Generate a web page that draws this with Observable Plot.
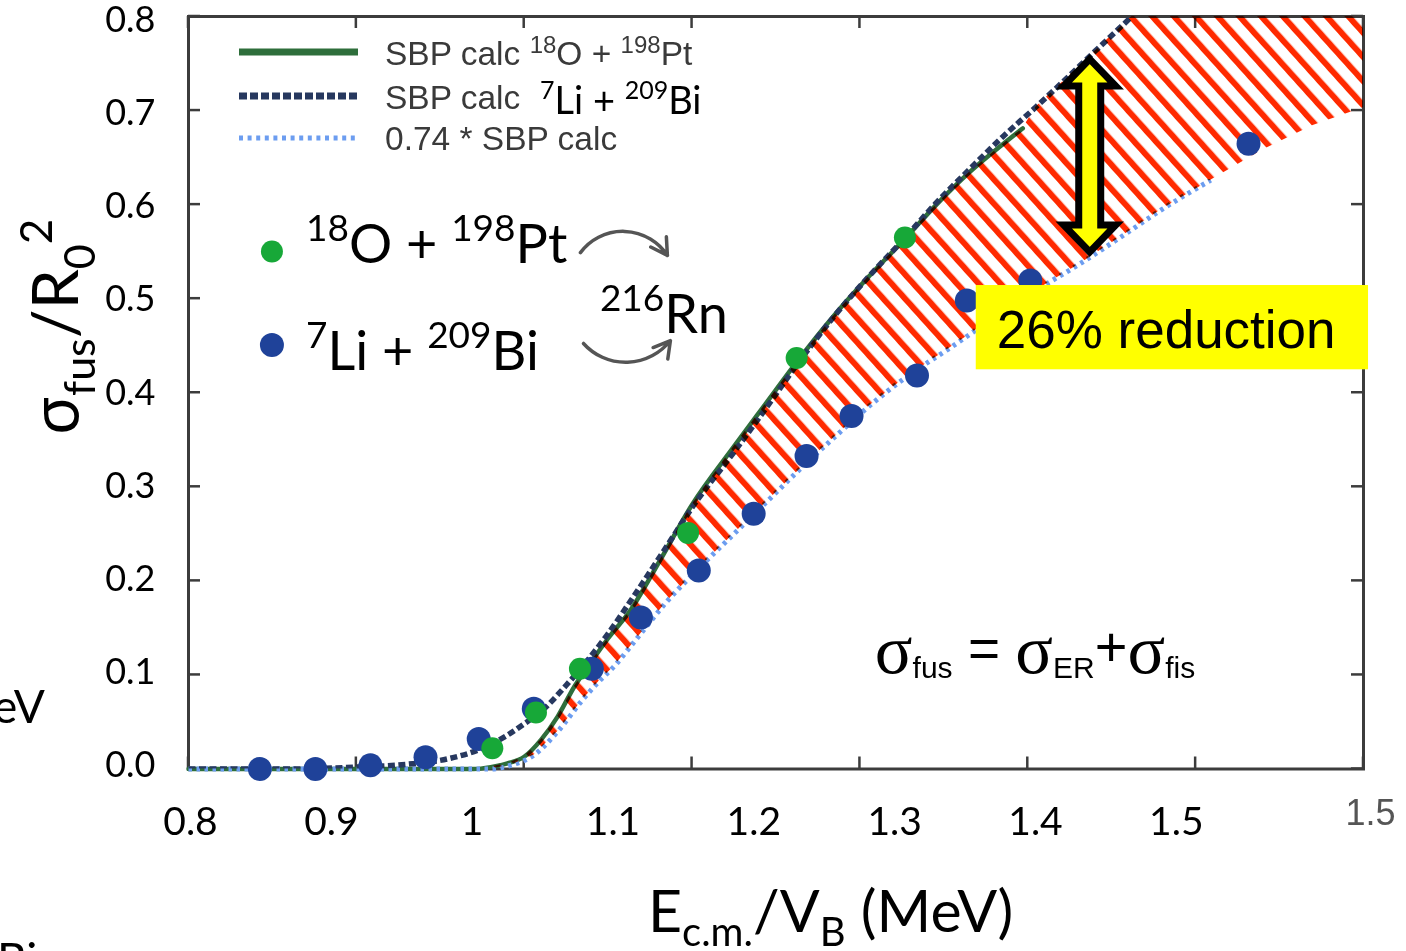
<!DOCTYPE html>
<html><head><meta charset="utf-8">
<script src="https://cdn.jsdelivr.net/npm/d3@7"></script>
<script src="https://cdn.jsdelivr.net/npm/@observablehq/plot@0.6"></script>
<style>
html, body { margin:0; padding:0; background:#fff; overflow:hidden; }
svg text { white-space: pre; }
</style>
</head><body><div id="chart"></div>
<script>
// ---------- data ----------
const xTickValues = [0.8, 0.9, 1.0, 1.1, 1.2, 1.3, 1.4, 1.5];
const xTickLabels = ["0.8", "0.9", "1", "1.1", "1.2", "1.3", "1.4", "1.5"];
const yTickValues = [0, 0.1, 0.2, 0.3, 0.4, 0.5, 0.6, 0.7, 0.8];
const yTickLabels = ["0.0", "0.1", "0.2", "0.3", "0.4", "0.5", "0.6", "0.7", "0.8"];

// SBP calc 18O + 198Pt (solid green)
const sbpO = [[0.80,0.000],[0.97,0.000],[0.98,0.002],[0.99,0.006],[1.00,0.013],[1.01,0.031],[1.02,0.056],[1.03,0.088],[1.04,0.114],[1.05,0.139],[1.063,0.168],[1.08,0.219],[1.10,0.281],[1.125,0.343],[1.145,0.391],[1.1625,0.433],[1.185,0.483],[1.205,0.523],[1.227,0.564],[1.245,0.599],[1.265,0.634],[1.285,0.664],[1.297,0.681]];
// SBP calc 7Li + 209Bi (dashed navy)
const sbpLi = [[0.80,0.000],[0.86,0.000],[0.90,0.002],[0.93,0.005],[0.955,0.011],[0.975,0.022],[0.99,0.036],[1.00,0.048],[1.01,0.061],[1.025,0.089],[1.0375,0.115],[1.05,0.144],[1.065,0.183],[1.085,0.237],[1.10,0.278],[1.125,0.337],[1.145,0.386],[1.1625,0.430],[1.185,0.482],[1.205,0.523],[1.227,0.565],[1.245,0.601],[1.265,0.637],[1.285,0.672],[1.305,0.704],[1.32,0.729],[1.34,0.763],[1.362,0.800]];
// 0.74 * SBP calc (dotted light blue)
const sbpScaled = [[0.80,0.000],[0.97,0.000],[0.98,0.000],[0.992,0.004],[1.006,0.015],[1.02,0.040],[1.035,0.074],[1.045,0.094],[1.053,0.108],[1.065,0.134],[1.085,0.178],[1.105,0.215],[1.125,0.250],[1.145,0.285],[1.165,0.320],[1.185,0.353],[1.205,0.385],[1.227,0.416],[1.254,0.448],[1.28,0.480],[1.305,0.509],[1.331,0.537],[1.355,0.565],[1.38,0.595],[1.409,0.626]];
// lower edge of the hatched band beyond the end of the dotted curve
const reductionLowerEdge = [[1.44,0.658],[1.47,0.684],[1.50,0.703]];

// measured points
const dataO = [[0.981,0.022],[1.0070,0.060],[1.0332,0.1065],[1.0976,0.251],[1.1623,0.437],[1.2268,0.565]];
const dataLi = [[0.8425,0.000],[0.8756,0.000],[0.9084,0.004],[0.9412,0.0126],[0.9729,0.032],[1.0057,0.064],[1.0403,0.1065],[1.0695,0.161],[1.1040,0.211],[1.1367,0.2713],[1.1682,0.3328],[1.1950,0.3752],[1.2340,0.4183],[1.2637,0.498],[1.3015,0.5194],[1.4315,0.6647]];

// ---------- styling ----------
const LATO = "Lato, 'Noto Sans', sans-serif";
const ARIAL = "'Liberation Sans', Arial, sans-serif";
const SERIF = "'Liberation Serif', 'Times New Roman', serif";
const colO = "#17a838", colLi = "#1f4299";
const colGreenLine = "#2e6e3b", colDash = "#27385f", colDot = "#6c9df0";
const frameColor = "#3c3c3c";

// rich text with sub/superscripts
function rich(parent, px, py, parts, base) {
  const t = parent.append("text").attr("x", px).attr("y", py)
    .attr("font-family", base.family).attr("font-size", base.size)
    .attr("fill", base.fill || "#000").attr("text-anchor", base.anchor || "start")
    .style("white-space", "pre");
  if (base.transform) t.attr("transform", base.transform);
  let cur = 0;
  for (const p of parts) {
    const s = t.append("tspan").text(p.t);
    if (p.size) s.attr("font-size", p.size);
    if (p.family) s.attr("font-family", p.family);
    if (p.fill) s.attr("fill", p.fill);
    const target = p.shift || 0;
    if (target !== cur) { s.attr("dy", target - cur); cur = target; }
    if (p.dx) s.attr("dx", p.dx);
  }
  return t;
}

// inward tick marks on all four sides
function tickMarks(index, {x, y}, values, dims) {
  const {width, height, marginTop, marginRight, marginBottom, marginLeft} = dims;
  const g = d3.create("svg:g").attr("stroke", frameColor).attr("stroke-width", 2.5);
  const b = height - marginBottom, t = marginTop, l = marginLeft, r = width - marginRight, L = 12;
  for (const v of xTickValues) {
    const p = x(v);
    g.append("line").attr("x1", p).attr("x2", p).attr("y1", b).attr("y2", b - L);
    g.append("line").attr("x1", p).attr("x2", p).attr("y1", t).attr("y2", t + L);
  }
  for (const v of yTickValues) {
    const p = y(v);
    g.append("line").attr("y1", p).attr("y2", p).attr("x1", l).attr("x2", l + L);
    g.append("line").attr("y1", p).attr("y2", p).attr("x1", r).attr("x2", r - L);
  }
  return g.node();
}

// hatched "reduction" band between SBP calc and 0.74*SBP calc
function hatchBand(index, {x, y}) {
  const g = d3.create("svg:g");
  const pat = g.append("defs").append("pattern").attr("id", "hatch26")
    .attr("patternUnits", "userSpaceOnUse").attr("width", 16.2).attr("height", 16.2)
    .attr("patternTransform", "rotate(-42)");
  pat.append("rect").attr("width", 6).attr("height", 16.2).attr("fill", "#ff2a00");
  const endO = sbpO[sbpO.length - 1][0];
  const top = sbpO.filter(d => d[0] >= 0.98)
    .concat(sbpLi.filter(d => d[0] > endO)).concat([[1.5, 0.8]]);
  const bottom = sbpScaled.filter(d => d[0] >= 0.98).concat(reductionLowerEdge);
  const pts = top.concat(bottom.slice().reverse()).map(([a, v]) => [x(a), y(v)]);
  g.append("path").attr("d", "M" + pts.map(p => p.join(",")).join("L") + "Z")
    .attr("fill", "url(#hatch26)").style("mix-blend-mode", "multiply");
  return g.node();
}

// legend of the original figure (top-left inside the frame)
function legendBox(index, scales, values, dims) {
  const g = d3.create("svg:g");
  const x0 = dims.marginLeft + 51, x1 = dims.marginLeft + 170, tx = dims.marginLeft + 197;
  const rows = [
    {yy: 52, stroke: colGreenLine, w: 7, dash: null},
    {yy: 96, stroke: colDash, w: 7, dash: "8,3"},
    {yy: 138, stroke: colDot, w: 5, dash: "4,4.6"}
  ];
  rows.forEach(r => {
    const ln = g.append("line").attr("x1", x0).attr("x2", x1).attr("y1", r.yy).attr("y2", r.yy)
      .attr("stroke", r.stroke).attr("stroke-width", r.w);
    if (r.dash) ln.attr("stroke-dasharray", r.dash);
  });
  const grey = "#3a3a3a";
  rich(g, tx, 65, [{t: "SBP calc "}, {t: "18", size: 24, shift: -12}, {t: "O + "}, {t: "198", size: 24, shift: -12}, {t: "Pt"}], {size: 33.5, family: ARIAL, fill: grey});
  rich(g, tx, 109, [{t: "SBP calc"}], {size: 33.5, family: ARIAL, fill: grey});
  rich(g, tx + 155, 114, [{t: "7", size: 25, shift: -15}, {t: "Li + "}, {t: "209", size: 25, shift: -15}, {t: "Bi"}], {size: 38, family: LATO});
  rich(g, tx, 150, [{t: "0.74 * SBP calc"}], {size: 33.5, family: ARIAL, fill: grey});
  return g.node();
}

// axis titles and slide fragments
function slideTexts(index, scales, values, dims) {
  const g = d3.create("svg:g");
  rich(g, 0, 0, [{t: "σ", family: "'Noto Sans', sans-serif"}, {t: "fus", size: 43, shift: 17}, {t: "/R"}, {t: "0", size: 43, shift: 17}, {t: "2", size: 44, shift: -26}],
    {size: 64, family: LATO, anchor: "middle", transform: "translate(78,327) rotate(-90)"});
  rich(g, 648, 932, [{t: "E"}, {t: "c.m.", size: 40, shift: 14}, {t: "/V"}, {t: "B", size: 40, shift: 14}, {t: " (MeV)"}], {size: 59, family: LATO});
  rich(g, 45, 723, [{t: "eV"}], {size: 46, family: LATO, anchor: "end"});
  rich(g, -3, 976, [{t: "Bi"}], {size: 46, family: LATO});
  return g.node();
}

// in-plot annotations anchored in data coordinates
function annotations(index, {x, y}) {
  const g = d3.create("svg:g");
  g.append("circle").attr("cx", x(0.85)).attr("cy", y(0.5496)).attr("r", 11).attr("fill", colO);
  g.append("circle").attr("cx", x(0.85)).attr("cy", y(0.4502)).attr("r", 12).attr("fill", colLi);
  rich(g, x(0.8703), y(0.5373), [{t: "18", size: 37, shift: -22}, {t: "O + "}, {t: "198", size: 37, shift: -22}, {t: "Pt"}], {size: 54, family: LATO});
  rich(g, x(0.8703), y(0.4236), [{t: "7", size: 37, shift: -22}, {t: "Li + "}, {t: "209", size: 37, shift: -22}, {t: "Bi"}], {size: 54, family: LATO});
  rich(g, x(1.0454), y(0.463), [{t: "216", size: 37, shift: -22}, {t: "Rn"}], {size: 54, family: LATO});
  // formula
  rich(g, x(1.2092), y(0.1015), [
    {t: "σ", family: SERIF, size: 70}, {t: "fus", size: 30, shift: 5},
    {t: " = ", size: 55, shift: -6}, {t: "σ", family: SERIF, size: 70, shift: 0},
    {t: "ER", size: 30, shift: 5}, {t: "+", size: 56, shift: -7},
    {t: "σ", family: SERIF, size: 70, shift: 0}, {t: "fis", size: 30, shift: 5}
  ], {size: 55, family: ARIAL});
  // double-headed arrow
  const cx = x(1.3372), ty = y(0.7606) + 6, by = y(0.5427) - 6;
  const hw = 26, sw = 11, hl = 27;
  const d = `M${cx},${ty}L${cx + hw},${ty + hl}L${cx + sw},${ty + hl}L${cx + sw},${by - hl}L${cx + hw},${by - hl}L${cx},${by}` +
    `L${cx - hw},${by - hl}L${cx - sw},${by - hl}L${cx - sw},${ty + hl}L${cx - hw},${ty + hl}Z`;
  g.append("path").attr("d", d).attr("fill", "#ffff00").attr("stroke", "#000").attr("stroke-width", 7).attr("stroke-linejoin", "miter");
  // yellow label box
  const bx1 = x(1.2693), bx2 = x(1.503), by1 = y(0.514), by2 = y(0.4244);
  g.append("rect").attr("x", bx1).attr("y", by1).attr("width", bx2 - bx1).attr("height", by2 - by1).attr("fill", "#ffff00");
  rich(g, x(1.2818), y(0.447), [{t: "26% reduction"}], {size: 53, family: ARIAL});
  return g.node();
}

// the slide's tick labels are spaced a little differently from the ticks
const xLabelStretch = 0.839, xLabelShift = 0.0012;
const yLabelStretch = 0.990, yLabelShift = 0.0037;

const chart = Plot.plot({
  width: 1406, height: 951,
  marginLeft: 188, marginRight: 43, marginTop: 16, marginBottom: 182.5,
  x: {domain: [0.8, 1.5], axis: null},
  y: {domain: [0, 0.8], axis: null},
  style: {background: "#fff", overflow: "visible"},
  marks: [
    Plot.frame({stroke: frameColor, strokeWidth: 3}),
    tickMarks,
    Plot.line(sbpO, {x: d => d[0], y: d => d[1], stroke: colGreenLine, strokeWidth: 4.5, curve: "monotone-x"}),
    Plot.line(sbpScaled, {x: d => d[0], y: d => d[1], stroke: colDot, strokeWidth: 5, strokeDasharray: "3.5,4.5", strokeLinecap: "butt", curve: "monotone-x"}),
    Plot.line(sbpLi, {x: d => d[0], y: d => d[1], stroke: colDash, strokeWidth: 5.5, strokeDasharray: "7,3.5", strokeLinecap: "butt", curve: "monotone-x", clip: true}),
    hatchBand,
    Plot.dot(dataLi, {x: d => d[0], y: d => d[1], r: 12, fill: colLi}),
    Plot.dot(dataO, {x: d => d[0], y: d => d[1], r: 11, fill: colO}),
    Plot.text(yTickValues, {x: 0.8, y: d => yLabelShift + d * yLabelStretch, text: (d, i) => yTickLabels[i], textAnchor: "end", dx: -33, fontSize: 36, fontFamily: LATO, fill: "#000"}),
    Plot.text(xTickValues, {x: d => 0.8 + xLabelShift + (d - 0.8) * xLabelStretch, y: 0, text: (d, i) => xTickLabels[i], dy: 54, fontSize: 39, fontFamily: LATO, fill: "#000"}),
    Plot.text(["1.5"], {x: 1.5, y: 0, dx: 7, dy: 44, text: d => d, fill: "#555", fontSize: 36, fontFamily: ARIAL}),
    Plot.arrow([0], {x1: 1.0335, y1: 0.549, x2: 1.0853, y2: 0.546, bend: 55, stroke: "#555", strokeWidth: 3.5}),
    Plot.arrow([0], {x1: 1.0353, y1: 0.4524, x2: 1.0871, y2: 0.4555, bend: -50, stroke: "#555", strokeWidth: 3.5}),
    legendBox,
    annotations,
    slideTexts
  ]
});
document.getElementById("chart").appendChild(chart);
</script>
</body></html>
